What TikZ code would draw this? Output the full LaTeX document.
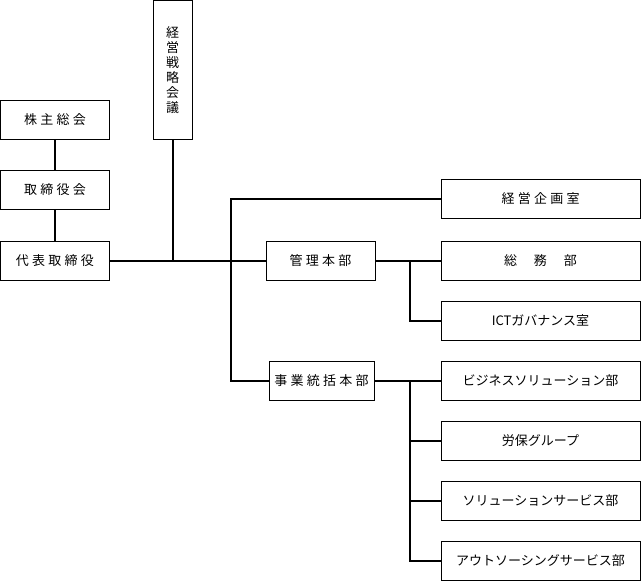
\documentclass[tikz,border=0pt]{standalone}
\usepackage{fontspec}
\setmainfont{Noto Sans CJK JP}
\newfontfamily\jpwide[LetterSpace=25]{Noto Sans CJK JP}
\begin{document}
\begin{tikzpicture}[x=1pt,y=-1pt,
  box/.style={draw=black,line width=1pt,inner sep=0pt,font=\fontsize{13}{15}\selectfont},
  wbox/.style={box,minimum width=199pt,minimum height=39pt},
  lbox/.style={box,minimum width=109pt,minimum height=39pt},
  conn/.style={line width=2pt},
  thinconn/.style={line width=1.2pt}]
\useasboundingbox (0,0) rectangle (641,581);
\fill[white] (0,0) rectangle (641,581);
% left column
\node[lbox] (kabu) at (55,119.5) {\jpwide 株主総会};
\node[lbox] (tori) at (55,189.5) {\jpwide 取締役会};
\node[lbox] (daihyo) at (55,260.5) {\jpwide 代表取締役};
\node[box,minimum width=39pt,minimum height=138.5pt,align=center] (senryaku) at (172.5,69.75)
  {\fontsize{13}{17.3}\selectfont 経\\営\\戦\\略\\会\\議};
% middle
\node[lbox] (kanri) at (320.5,260.5) {\jpwide 管理本部};
\node[box,minimum width=105pt,minimum height=39pt] (jigyo) at (321.5,380.5) {\jpwide 事業統括本部};
% right column
\node[wbox] (kikaku) at (540.5,199) {\jpwide 経営企画室};
\node[wbox] (somu) at (540.5,260.5) {総\hspace{17pt}務\hspace{17pt}部};
\node[wbox] (ict) at (540.5,320.5) {ICTガバナンス室};
\node[wbox] (biz) at (540.5,380.5) {ビジネスソリューション部};
\node[wbox] (rouho) at (540.5,440.5) {労保グループ};
\node[wbox] (sol) at (540.5,500.5) {ソリューションサービス部};
\node[wbox] (out) at (540.5,560.5) {アウトソーシングサービス部};
% bus coordinates
\coordinate (busA) at (231,0);
\coordinate (busB) at (409.5,0);
% connectors
\draw[conn] (kabu) -- (tori);
\draw[conn] (tori) -- (daihyo);
\draw[conn] (daihyo.east) -- (kanri.west);
\draw[conn] (senryaku.south) -- (senryaku.south |- daihyo.east);
\draw[thinconn] (kikaku.west) -- (kikaku.west -| busA) -- (busA |- daihyo.east);
\draw[conn] (busA |- daihyo.east) |- (jigyo.west);
\draw[conn] (kanri.east) -- (somu.west);
\draw[conn] (busB |- kanri.east) |- (ict.west);
\draw[conn] (jigyo.east) -- (biz.west);
\draw[conn] (busB |- jigyo.east) |- (out.west);
\draw[conn] (busB |- rouho.west) -- (rouho.west);
\draw[conn] (busB |- sol.west) -- (sol.west);
\end{tikzpicture}
\end{document}
